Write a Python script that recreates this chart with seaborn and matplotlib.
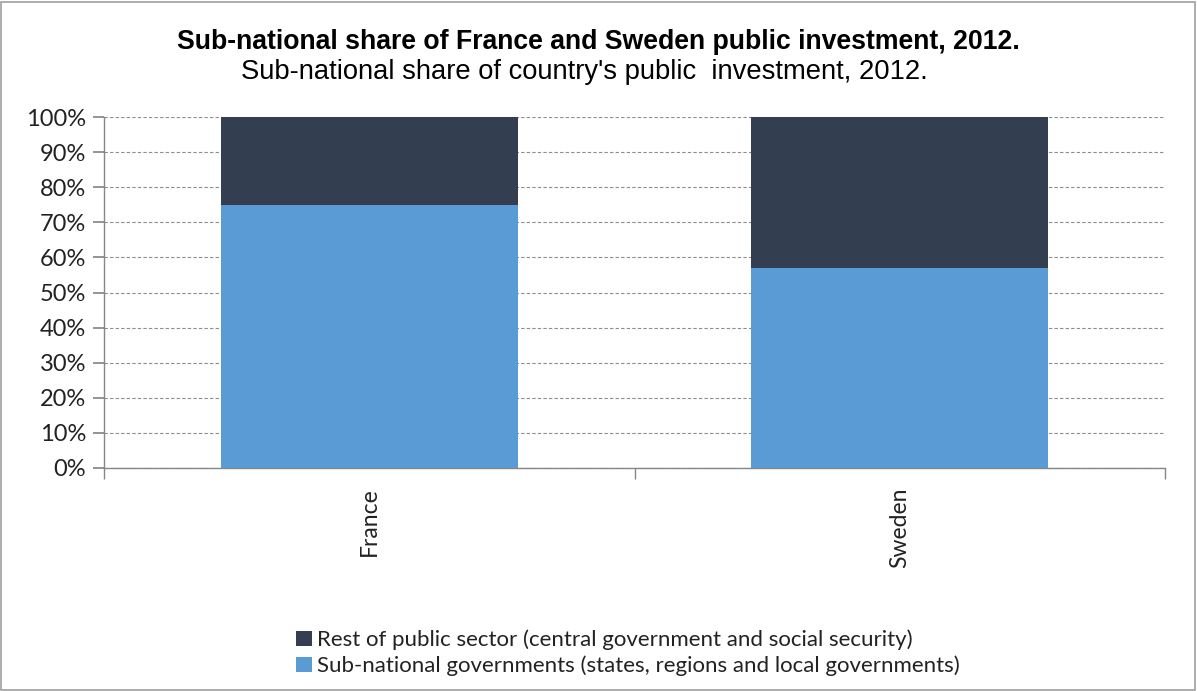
import matplotlib
matplotlib.use("Agg")
import matplotlib.pyplot as plt
import seaborn as sns
import pandas as pd
from matplotlib.patches import Patch, Rectangle
from matplotlib.ticker import FuncFormatter, MultipleLocator

countries = ["France", "Sweden"]
subnational = [75, 57]
rest = [25, 43]
series_names = ["Rest of public sector (central government and social security)",
                "Sub-national governments (states, regions and local governments)"]
title = "Sub-national share of France and Sweden public investment, 2012."
subtitle = "Sub-national share of country's public  investment, 2012."

c_sub = "#5B9BD5"
c_rest = "#333F50"

sns.set_theme(style="white")
plt.rcParams['font.family'] = ['Liberation Sans', 'DejaVu Sans']

df = pd.DataFrame({"country": countries, "sub": subnational,
                   "total": [s + r for s, r in zip(subnational, rest)]})

fig = plt.figure(figsize=(11.97, 6.91), dpi=100)
ax = fig.add_axes([104/1197, 1 - 468/691, (1165-104)/1197, (468-117)/691])

sns.barplot(data=df, x="country", y="total", color=c_rest, width=0.56,
            saturation=1, ax=ax, zorder=2, linewidth=0)
sns.barplot(data=df, x="country", y="sub", color=c_sub, width=0.56,
            saturation=1, ax=ax, zorder=3, linewidth=0)

ax.set_xlim(-0.5, 1.5)
ax.set_ylim(0, 100)
ax.yaxis.set_major_locator(MultipleLocator(10))
ax.yaxis.set_major_formatter(FuncFormatter(lambda v, p: f"{int(round(v))}%"))
ax.grid(axis="y", color="#8c8c8c", linestyle=(0, (3, 2)), linewidth=0.8, zorder=0)
ax.set_axisbelow(True)
ax.set_xlabel("")
ax.set_ylabel("")

for s in ["top", "right"]:
    ax.spines[s].set_visible(False)
for s in ["left", "bottom"]:
    ax.spines[s].set_color("#868686")
    ax.spines[s].set_linewidth(1.0)

ax.tick_params(axis="y", which="major", left=True, length=8, color="#868686",
               labelsize=17, labelcolor="#222222", pad=5)
ax.set_xticks([0, 1])
ax.set_xticklabels(countries, rotation=90, fontsize=16.5, color="#222222",
                   family=['Lato', 'DejaVu Sans'])
ax.tick_params(axis="x", which="major", bottom=False, pad=8)
ax.set_xticks([-0.5, 0.5, 1.5], minor=True)
ax.tick_params(axis="x", which="minor", bottom=True, length=8, color="#868686")
for lab in ax.get_yticklabels():
    lab.set_family(['Lato', 'DejaVu Sans'])

fig.text(0.5, 1 - 42/691, title, ha="center", va="center", fontsize=19.2,
         fontweight="bold", color="#000000")
fig.text(0.488, 1 - 72/691, subtitle, ha="center", va="center", fontsize=19.7,
         color="#000000")

handles = [Patch(facecolor=c_rest, edgecolor="none"),
           Patch(facecolor=c_sub, edgecolor="none")]
leg = fig.legend(handles, series_names, loc="center", bbox_to_anchor=(628/1197, 1 - 653/691),
                 ncol=1, frameon=False, handlelength=0.7, handleheight=0.7,
                 handletextpad=0.25, labelspacing=0.25, borderpad=0,
                 prop={'family': ['Lato', 'DejaVu Sans'], 'size': 16})
for t in leg.get_texts():
    t.set_color("#222222")

fig.patches.append(Rectangle((1/1197, 1/691), 1 - 3/1197, 1 - 3/691,
                             transform=fig.transFigure, fill=False,
                             edgecolor="#a0a0a0", linewidth=1.2))

fig.savefig("out.png", dpi=100)
